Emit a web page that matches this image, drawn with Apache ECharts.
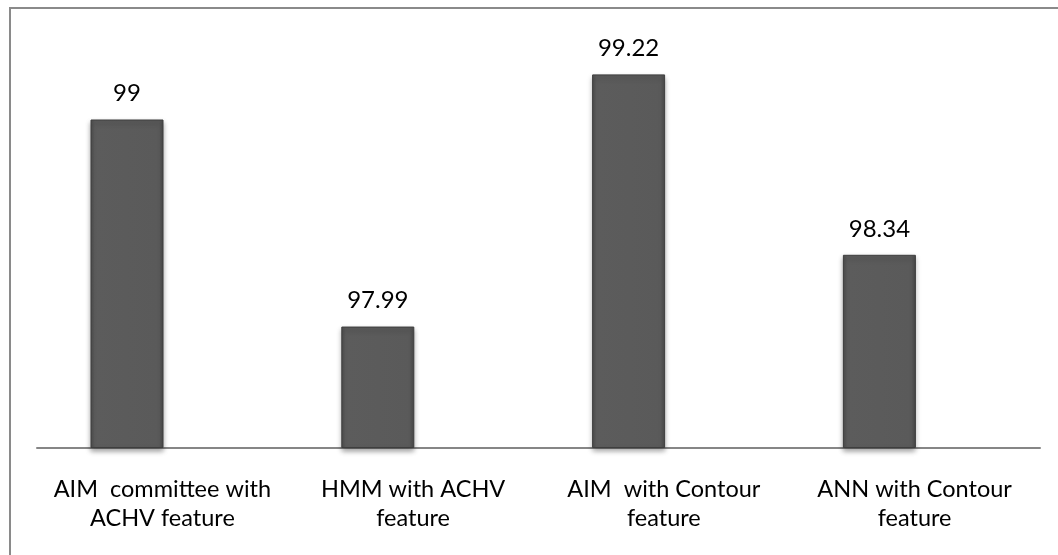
<!DOCTYPE html>
<html>
<head>
<meta charset="utf-8">
<script src="https://cdn.jsdelivr.net/npm/echarts@6/dist/echarts.min.js"></script>
<style>
html,body{margin:0;padding:0;background:#fff;}
#c{width:1058px;height:555px;}
</style>
</head>
<body>
<div id="c"></div>
<script>
const categories = [
  "AIM  committee with\nACHV feature",
  "HMM with ACHV\nfeature",
  "AIM  with Contour\nfeature",
  "ANN with Contour\nfeature"
];
const accuracy = [99, 97.99, 99.22, 98.34];
const yMin = 97.4;
const yMax = 99.4;

const chart = echarts.init(document.getElementById('c'), null, {renderer: 'canvas'});
const font = 'Lato, "Open Sans", sans-serif';

chart.setOption({
  animation: false,
  backgroundColor: '#ffffff',
  graphic: [{
    type: 'rect',
    shape: {x: 10, y: 8, width: 1200, height: 700},
    style: {fill: 'none', stroke: '#8a8a8a', lineWidth: 2},
    silent: true,
    z: -1
  }],
  grid: [
    {left: 1.6, right: 53.2, top: 37.5, bottom: 107.5},
    {left: 37, right: 18, top: 37.5, bottom: 107.5}
  ],
  xAxis: [
    {
      type: 'category', gridIndex: 0, data: categories,
      axisLine: {show: false}, axisTick: {show: false}, axisLabel: {show: false}
    },
    {
      type: 'category', gridIndex: 1, data: categories,
      axisLine: {show: true, onZero: false, lineStyle: {color: '#868686', width: 2}},
      axisTick: {show: false},
      axisLabel: {
        show: true, interval: 0, margin: 27,
        color: '#000', fontFamily: font, fontSize: 23.5, lineHeight: 29.5,
        align: 'center'
      }
    }
  ],
  yAxis: [
    {type: 'value', gridIndex: 0, min: yMin, max: yMax, show: false},
    {type: 'value', gridIndex: 1, min: yMin, max: yMax, show: false}
  ],
  series: [{
    type: 'bar',
    xAxisIndex: 0, yAxisIndex: 0,
    data: accuracy,
    barWidth: 73,
    itemStyle: {
      color: new echarts.graphic.LinearGradient(0, 0, 1, 0, [
        {offset: 0, color: '#4e4e4e'},
        {offset: 0.06, color: '#5c5c5c'},
        {offset: 0.94, color: '#5a5a5a'},
        {offset: 1, color: '#4a4a4a'}
      ]),
      borderColor: '#3e3e3e',
      borderWidth: 1,
      shadowColor: 'rgba(0,0,0,0.35)',
      shadowBlur: 5,
      shadowOffsetY: 3
    },
    label: {
      show: true, position: 'top', distance: 14,
      color: '#000', fontFamily: font, fontSize: 24
    }
  }]
});
</script>
</body>
</html>
